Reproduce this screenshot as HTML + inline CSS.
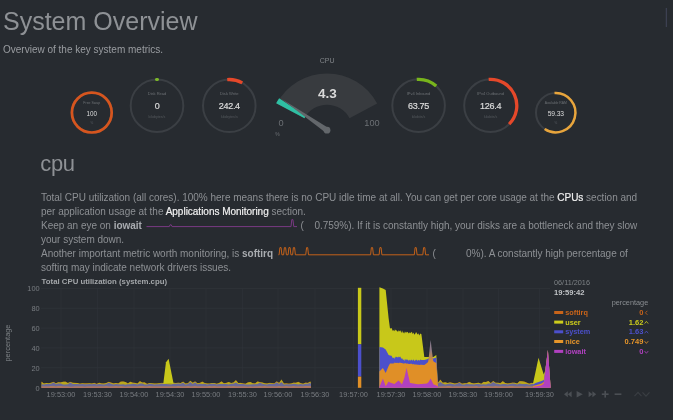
<!DOCTYPE html>
<html><head><meta charset="utf-8"><title>netdata</title>
<style>
html,body{margin:0;padding:0;background:#272b30;}
body{width:673px;height:420px;position:relative;overflow:hidden;font-family:"Liberation Sans",sans-serif;}
.t{position:absolute;white-space:nowrap;}
svg{position:absolute;left:0;top:0;}
h1{position:absolute;left:3px;top:7px;margin:0;font-weight:normal;font-size:25px;line-height:28px;color:#8e9195;white-space:nowrap;}
.sub{position:absolute;left:3px;top:42.5px;font-size:10px;line-height:14px;color:#9a9da1;white-space:nowrap;}
h2{position:absolute;left:40.2px;top:149.2px;margin:0;font-weight:normal;font-size:22px;letter-spacing:-0.3px;line-height:30px;color:#8e9195;}
.p{position:absolute;left:41px;font-size:10px;line-height:14px;color:#8d9094;white-space:nowrap;letter-spacing:-0.015px;margin-top:0.5px;}
.p b{color:#a9acb0;}
.p a{color:#f0f0f0;text-decoration:none;font-weight:normal;-webkit-text-stroke:0.2px #f0f0f0;}
#wrap{position:absolute;left:0;top:0;width:673px;height:420px;filter:blur(0.45px);}
</style></head><body><div id="wrap">
<h1>System Overview</h1>
<div class="sub">Overview of the key system metrics.</div>
<h2>cpu</h2>
<div class="p" style="top:190px">Total CPU utilization (all cores). 100% here means there is no CPU idle time at all. You can get per core usage at the <a>CPUs</a> section and</div>
<div class="p" style="top:204px">per application usage at the <a>Applications Monitoring</a> section.</div>
<div class="p" style="top:218px">Keep an eye on <b>iowait</b></div>
<div class="p" style="top:218px;left:300.5px">(</div>
<div class="p" style="top:218px;left:314.4px">0.759%). If it is constantly high, your disks are a bottleneck and they slow</div>
<div class="p" style="top:232px">your system down.</div>
<div class="p" style="top:246px">Another important metric worth monitoring, is <b>softirq</b></div>
<div class="p" style="top:246px;left:432.6px">(</div>
<div class="p" style="top:246px;left:466px">0%). A constantly high percentage of</div>
<div class="p" style="top:260px">softirq may indicate network drivers issues.</div>
<svg width="673" height="420" viewBox="0 0 673 420">
<circle cx="91.8" cy="112.6" r="19.9" fill="none" stroke="#3b3f44" stroke-width="2.7"/>
<circle cx="91.8" cy="112.6" r="19.9" fill="none" stroke="#d6551e" stroke-width="2.7"/>
<circle cx="157" cy="105.7" r="26.3" fill="none" stroke="#3b3f44" stroke-width="2.0"/>
<path d="M156.45 79.41 A26.3 26.3 0 0 1 157.55 79.41" fill="none" stroke="#7cb82a" stroke-width="3.0" stroke-linecap="round"/>
<circle cx="229.3" cy="105.8" r="26.3" fill="none" stroke="#3b3f44" stroke-width="2.0"/>
<path d="M227.24 79.58 A26.3 26.3 0 0 1 242.25 82.91" fill="none" stroke="#e5482a" stroke-width="3.3" stroke-linecap="butt"/>
<circle cx="418.6" cy="105.6" r="26.3" fill="none" stroke="#3b3f44" stroke-width="2.0"/>
<path d="M416.77 79.36 A26.3 26.3 0 0 1 436.20 86.06" fill="none" stroke="#78b41c" stroke-width="3.3" stroke-linecap="butt"/>
<circle cx="490.5" cy="105.6" r="26.3" fill="none" stroke="#3b3f44" stroke-width="2.0"/>
<path d="M488.67 79.36 A26.3 26.3 0 0 1 509.10 124.20" fill="none" stroke="#e5482a" stroke-width="3.3" stroke-linecap="butt"/>
<circle cx="555.7" cy="112.7" r="19.7" fill="none" stroke="#3b3f44" stroke-width="2.0"/>
<path d="M554.50 93.04 A19.7 19.7 0 1 1 544.68 129.03" fill="none" stroke="#e8a53c" stroke-width="2.5" stroke-linecap="butt"/>
<path d="M276.85 103.53 A56.8 56.8 0 0 1 377.15 103.53 L349.52 118.23 A25.5 25.5 0 0 0 304.48 118.23 Z" fill="#383b3f"/>
<path d="M276.14 103.16 A57.599999999999994 57.599999999999994 0 0 1 279.15 98.13 L305.82 116.00 A25.5 25.5 0 0 0 304.48 118.23 Z" fill="#2fbfa3"/>
<path d="M328.50 127.96 L281.63 99.10 L325.50 132.44 Z" fill="#63676b"/>
<circle cx="327" cy="130.2" r="3.4" fill="#63676b"/>
<rect x="665.8" y="8" width="1" height="19" fill="#43465a"/>
<path d="M146.5 226.6 L169.3 226.6 L170.1 224.8 L171.2 224.8 L172.1 226.6 L291.0 226.6 L291.8 219.6 L292.9 219.6 L293.8 226.6 L297.0 226.6" fill="none" stroke="#7a3a84" stroke-width="1" stroke-linejoin="round"/>
<path d="M278.5 254.8 L279.1 254.8 L279.9 247.6 L281.1 247.6 L281.9 254.8 L283.6 254.8 L284.4 247.6 L285.6 247.6 L286.4 254.8 L288.1 254.8 L288.9 247.6 L290.1 247.6 L290.9 254.8 L292.6 254.8 L293.4 247.6 L294.6 247.6 L295.4 254.8 L305.7 254.8 L306.6 247.6 L307.7 247.6 L308.5 254.8 L370.6 254.8 L371.4 247.6 L372.6 247.6 L373.4 254.8 L379.1 254.8 L379.9 247.6 L381.1 247.6 L381.9 254.8 L414.3 254.8 L415.1 247.6 L416.2 247.6 L417.1 254.8 L422.8 254.8 L423.6 247.6 L424.8 247.6 L425.6 254.8 L429.0 254.8" fill="none" stroke="#c4621a" stroke-width="1" stroke-linejoin="round"/>
<rect x="41" y="387.55" width="509" height="0.5" fill="#353a3f"/>
<rect x="41" y="367.63" width="509" height="0.5" fill="#353a3f"/>
<rect x="41" y="347.71" width="509" height="0.5" fill="#353a3f"/>
<rect x="41" y="327.79" width="509" height="0.5" fill="#353a3f"/>
<rect x="41" y="307.87" width="509" height="0.5" fill="#353a3f"/>
<rect x="41" y="287.95" width="509" height="0.5" fill="#353a3f"/>
<rect x="60.75" y="288.20" width="0.5" height="99.60" fill="#31353a"/>
<rect x="97.25" y="288.20" width="0.5" height="99.60" fill="#31353a"/>
<rect x="133.75" y="288.20" width="0.5" height="99.60" fill="#31353a"/>
<rect x="169.75" y="288.20" width="0.5" height="99.60" fill="#31353a"/>
<rect x="205.75" y="288.20" width="0.5" height="99.60" fill="#31353a"/>
<rect x="242.25" y="288.20" width="0.5" height="99.60" fill="#31353a"/>
<rect x="277.75" y="288.20" width="0.5" height="99.60" fill="#31353a"/>
<rect x="314.75" y="288.20" width="0.5" height="99.60" fill="#31353a"/>
<rect x="353.25" y="288.20" width="0.5" height="99.60" fill="#31353a"/>
<rect x="390.75" y="288.20" width="0.5" height="99.60" fill="#31353a"/>
<rect x="426.75" y="288.20" width="0.5" height="99.60" fill="#31353a"/>
<rect x="462.75" y="288.20" width="0.5" height="99.60" fill="#31353a"/>
<rect x="498.25" y="288.20" width="0.5" height="99.60" fill="#31353a"/>
<rect x="539.25" y="288.20" width="0.5" height="99.60" fill="#31353a"/>
<path d="M41.5 387.8 L41.5 381.6 L43.9 383.4 L46.3 383.0 L48.7 383.2 L51.1 382.7 L53.5 381.8 L55.9 383.2 L58.3 382.2 L60.7 382.2 L63.1 381.7 L65.5 381.6 L67.9 382.9 L70.3 381.8 L72.7 382.7 L75.1 382.8 L77.5 383.0 L79.9 383.6 L82.3 383.2 L84.7 383.3 L87.1 383.3 L89.5 383.2 L91.9 383.6 L94.3 382.7 L96.7 383.7 L99.1 382.8 L101.5 383.3 L103.9 383.4 L106.3 382.9 L108.7 381.8 L111.1 382.6 L113.5 383.3 L115.9 382.9 L118.3 383.3 L120.7 381.6 L123.1 381.5 L125.5 381.9 L127.9 383.3 L130.3 381.7 L132.7 382.6 L135.1 382.8 L137.5 383.4 L139.9 381.0 L142.3 382.5 L144.7 382.3 L147.1 383.8 L149.5 383.0 L151.9 383.2 L154.3 383.4 L156.7 383.5 L159.1 383.2 L161.5 382.8 L163.9 383.0 L166.3 383.2 L168.7 383.5 L171.1 383.6 L173.5 382.7 L175.9 382.9 L178.3 382.7 L180.7 382.9 L183.1 381.6 L185.5 383.5 L187.9 383.2 L190.3 380.7 L192.7 382.7 L195.1 381.3 L197.5 383.2 L199.9 382.8 L202.3 381.6 L204.7 382.9 L207.1 383.5 L209.5 383.4 L211.9 383.0 L214.3 382.9 L216.7 383.7 L219.1 382.9 L221.5 381.2 L223.9 383.2 L226.3 382.8 L228.7 382.0 L231.1 382.9 L233.5 382.4 L235.9 380.1 L238.3 383.0 L240.7 382.8 L243.1 383.3 L245.5 383.7 L247.9 382.3 L250.3 381.9 L252.7 383.3 L255.1 383.3 L257.5 381.4 L259.9 382.1 L262.3 382.4 L264.7 383.3 L267.1 383.4 L269.5 382.8 L271.9 383.0 L274.3 383.3 L276.7 381.3 L279.1 382.8 L281.5 379.6 L283.9 383.6 L286.3 383.3 L288.7 383.6 L291.1 383.6 L293.5 382.6 L295.9 382.7 L298.3 381.8 L300.7 383.0 L303.1 383.7 L305.5 382.6 L307.9 382.8 L310.3 381.5 L311.0 383.0 L311.0 387.8 Z" fill="#c8641a" opacity="0.72"/>
<path d="M41.5 387.8 L41.5 381.7 L43.9 383.5 L46.3 383.1 L48.7 383.3 L51.1 382.8 L53.5 381.9 L55.9 383.3 L58.3 382.3 L60.7 382.4 L63.1 381.8 L65.5 381.7 L67.9 383.1 L70.3 381.9 L72.7 382.8 L75.1 383.0 L77.5 383.1 L79.9 383.7 L82.3 383.3 L84.7 383.4 L87.1 383.4 L89.5 383.3 L91.9 383.6 L94.3 382.9 L96.7 383.9 L99.1 382.8 L101.5 383.4 L103.9 383.5 L106.3 383.0 L108.7 381.9 L111.1 382.7 L113.5 383.4 L115.9 383.0 L118.3 383.5 L120.7 381.7 L123.1 381.5 L125.5 382.0 L127.9 383.4 L130.3 381.8 L132.7 382.7 L135.1 382.9 L137.5 383.6 L139.9 381.2 L142.3 382.6 L144.7 382.4 L147.1 383.9 L149.5 383.1 L151.9 383.3 L154.3 383.5 L156.7 383.6 L159.1 383.3 L161.5 383.0 L163.9 383.1 L166.3 383.2 L168.7 383.6 L171.1 383.7 L173.5 382.8 L175.9 382.9 L178.3 382.8 L180.7 382.9 L183.1 381.7 L185.5 383.6 L187.9 383.3 L190.3 380.8 L192.7 382.8 L195.1 381.4 L197.5 383.3 L199.9 383.0 L202.3 381.7 L204.7 383.0 L207.1 383.6 L209.5 383.4 L211.9 383.1 L214.3 383.0 L216.7 383.8 L219.1 383.0 L221.5 381.4 L223.9 383.3 L226.3 382.9 L228.7 382.1 L231.1 383.0 L233.5 382.6 L235.9 380.2 L238.3 383.1 L240.7 382.9 L243.1 383.4 L245.5 383.8 L247.9 382.4 L250.3 382.0 L252.7 383.3 L255.1 383.4 L257.5 381.5 L259.9 382.2 L262.3 382.5 L264.7 383.3 L267.1 383.6 L269.5 382.9 L271.9 383.2 L274.3 383.4 L276.7 381.5 L279.1 382.9 L281.5 379.6 L283.9 383.6 L286.3 383.4 L288.7 383.7 L291.1 383.6 L293.5 382.7 L295.9 382.8 L298.3 381.9 L300.7 383.2 L303.1 383.8 L305.5 382.8 L307.9 383.0 L310.3 381.6 L311.0 383.1 L311.0 387.8 Z" fill="#c8c81a" opacity="0.72"/>
<path d="M41.5 387.8 L41.5 384.2 L43.9 384.4 L46.3 384.0 L48.7 384.0 L51.1 383.7 L53.5 382.6 L55.9 384.1 L58.3 383.5 L60.7 383.4 L63.1 384.6 L65.5 384.4 L67.9 384.2 L70.3 382.6 L72.7 383.9 L75.1 383.9 L77.5 383.9 L79.9 384.3 L82.3 384.1 L84.7 384.2 L87.1 384.3 L89.5 384.1 L91.9 384.3 L94.3 383.7 L96.7 384.6 L99.1 383.9 L101.5 384.2 L103.9 384.6 L106.3 384.1 L108.7 382.8 L111.1 383.8 L113.5 384.4 L115.9 384.1 L118.3 384.2 L120.7 384.4 L123.1 384.2 L125.5 384.7 L127.9 384.3 L130.3 384.2 L132.7 383.8 L135.1 383.9 L137.5 384.4 L139.9 383.6 L142.3 383.6 L144.7 384.6 L147.1 384.6 L149.5 383.7 L151.9 383.9 L154.3 384.4 L156.7 384.3 L159.1 384.3 L161.5 383.6 L163.9 383.9 L166.3 384.0 L168.7 384.2 L171.1 384.4 L173.5 383.7 L175.9 383.8 L178.3 383.5 L180.7 383.7 L183.1 382.8 L185.5 384.5 L187.9 384.0 L190.3 382.0 L192.7 383.9 L195.1 382.3 L197.5 384.3 L199.9 383.8 L202.3 384.0 L204.7 383.8 L207.1 384.4 L209.5 384.1 L211.9 383.8 L214.3 383.8 L216.7 384.4 L219.1 384.0 L221.5 384.0 L223.9 384.0 L226.3 384.1 L228.7 384.4 L231.1 383.7 L233.5 383.7 L235.9 382.4 L238.3 383.9 L240.7 384.1 L243.1 384.0 L245.5 384.5 L247.9 384.6 L250.3 384.4 L252.7 384.3 L255.1 384.3 L257.5 383.9 L259.9 382.8 L262.3 383.7 L264.7 384.3 L267.1 384.4 L269.5 383.8 L271.9 383.9 L274.3 384.1 L276.7 382.2 L279.1 383.9 L281.5 382.1 L283.9 384.6 L286.3 384.2 L288.7 384.3 L291.1 384.3 L293.5 383.8 L295.9 383.9 L298.3 384.4 L300.7 383.9 L303.1 384.5 L305.5 383.7 L307.9 383.8 L310.3 382.7 L311.0 384.0 L311.0 387.8 Z" fill="#4c50cc" opacity="0.72"/>
<path d="M41.5 387.8 L41.5 386.5 L43.9 386.5 L46.3 386.6 L48.7 386.4 L51.1 386.3 L53.5 386.2 L55.9 386.5 L58.3 386.3 L60.7 386.2 L63.1 386.5 L65.5 386.6 L67.9 386.5 L70.3 386.7 L72.7 386.7 L75.1 386.5 L77.5 386.5 L79.9 386.6 L82.3 386.5 L84.7 386.7 L87.1 386.5 L89.5 386.6 L91.9 386.6 L94.3 386.4 L96.7 386.6 L99.1 386.6 L101.5 386.4 L103.9 386.5 L106.3 386.2 L108.7 386.6 L111.1 386.4 L113.5 386.5 L115.9 386.3 L118.3 386.6 L120.7 386.3 L123.1 386.5 L125.5 386.7 L127.9 386.6 L130.3 386.6 L132.7 386.4 L135.1 386.5 L137.5 386.4 L139.9 386.3 L142.3 386.3 L144.7 386.6 L147.1 386.5 L149.5 386.2 L151.9 386.6 L154.3 386.5 L156.7 386.5 L159.1 386.4 L161.5 386.4 L163.9 386.5 L166.3 386.6 L168.7 386.4 L171.1 386.6 L173.5 386.4 L175.9 386.4 L178.3 386.3 L180.7 386.4 L183.1 386.4 L185.5 386.4 L187.9 386.3 L190.3 386.4 L192.7 386.5 L195.1 386.3 L197.5 386.4 L199.9 386.6 L202.3 386.4 L204.7 386.4 L207.1 386.5 L209.5 386.3 L211.9 386.4 L214.3 386.3 L216.7 386.6 L219.1 386.4 L221.5 386.4 L223.9 386.4 L226.3 386.4 L228.7 386.3 L231.1 386.4 L233.5 386.3 L235.9 386.4 L238.3 386.5 L240.7 386.4 L243.1 386.5 L245.5 386.5 L247.9 386.7 L250.3 386.4 L252.7 386.7 L255.1 386.5 L257.5 386.6 L259.9 386.3 L262.3 386.5 L264.7 386.2 L267.1 386.4 L269.5 386.4 L271.9 386.6 L274.3 386.4 L276.7 386.4 L279.1 386.2 L281.5 386.6 L283.9 386.5 L286.3 386.3 L288.7 386.4 L291.1 386.4 L293.5 386.3 L295.9 386.6 L298.3 386.4 L300.7 386.4 L303.1 386.5 L305.5 386.2 L307.9 386.2 L310.3 386.3 L311.0 386.6 L311.0 387.8 Z" fill="#e08f27" opacity="0.72"/>
<path d="M41.5 387.8 L41.5 387.6 L43.9 387.5 L46.3 387.5 L48.7 387.6 L51.1 387.5 L53.5 387.5 L55.9 387.5 L58.3 387.5 L60.7 387.5 L63.1 387.5 L65.5 387.6 L67.9 387.6 L70.3 387.6 L72.7 387.6 L75.1 387.6 L77.5 387.5 L79.9 387.5 L82.3 387.6 L84.7 387.6 L87.1 387.6 L89.5 387.5 L91.9 387.6 L94.3 387.5 L96.7 387.6 L99.1 387.6 L101.5 387.6 L103.9 387.5 L106.3 387.5 L108.7 387.6 L111.1 387.6 L113.5 387.6 L115.9 387.5 L118.3 387.6 L120.7 387.5 L123.1 387.6 L125.5 387.6 L127.9 387.6 L130.3 387.6 L132.7 387.6 L135.1 387.6 L137.5 387.5 L139.9 387.6 L142.3 387.5 L144.7 387.5 L147.1 387.5 L149.5 387.5 L151.9 387.5 L154.3 387.5 L156.7 387.6 L159.1 387.6 L161.5 387.6 L163.9 387.5 L166.3 387.6 L168.7 387.5 L171.1 387.6 L173.5 387.5 L175.9 387.5 L178.3 387.5 L180.7 387.6 L183.1 387.6 L185.5 387.5 L187.9 387.5 L190.3 387.6 L192.7 387.5 L195.1 387.5 L197.5 387.5 L199.9 387.5 L202.3 387.5 L204.7 387.5 L207.1 387.6 L209.5 387.5 L211.9 387.6 L214.3 387.5 L216.7 387.5 L219.1 387.5 L221.5 387.6 L223.9 387.5 L226.3 387.6 L228.7 387.5 L231.1 387.5 L233.5 387.5 L235.9 387.6 L238.3 387.6 L240.7 387.6 L243.1 387.6 L245.5 387.6 L247.9 387.6 L250.3 387.6 L252.7 387.6 L255.1 387.6 L257.5 387.6 L259.9 387.5 L262.3 387.6 L264.7 387.5 L267.1 387.6 L269.5 387.6 L271.9 387.6 L274.3 387.5 L276.7 387.6 L279.1 387.5 L281.5 387.6 L283.9 387.5 L286.3 387.6 L288.7 387.5 L291.1 387.6 L293.5 387.5 L295.9 387.6 L298.3 387.6 L300.7 387.5 L303.1 387.6 L305.5 387.5 L307.9 387.5 L310.3 387.6 L311.0 387.5 L311.0 387.8 Z" fill="#b141c0" opacity="0.72"/>
<path d="M163.3 383.8 L166.0 362.3 L168.6 358.7 L173.6 383.8 Z" fill="#c8c81a"/>
<rect x="357.9" y="287.8" width="3.400000000000034" height="56.5" fill="#c8c81a"/>
<rect x="357.9" y="344.3" width="3.400000000000034" height="32.3" fill="#4c50cc"/>
<rect x="357.9" y="376.6" width="3.400000000000034" height="11.2" fill="#e08f27"/>
<path d="M379.4 387.8 L379.4 287.3 L382.9 288.5 L385.7 290.0 L388.6 318.0 L390.0 328.6 L391.5 328.1 L392.9 331.1 L394.3 329.5 L394.4 331.3 L395.9 329.5 L397.3 331.8 L398.6 330.2 L398.8 331.7 L400.2 330.2 L401.6 332.9 L402.0 330.2 L403.1 333.3 L404.3 331.4 L404.6 333.6 L406.0 331.4 L406.6 332.8 L407.4 331.8 L408.9 333.4 L410.0 331.9 L410.4 333.2 L411.8 331.7 L412.9 334.3 L413.2 332.5 L414.7 334.8 L416.1 332.1 L417.6 334.6 L418.6 333.3 L419.1 335.4 L420.5 333.6 L421.4 334.3 L424.3 357.1 L427.0 357.0 L428.6 357.0 L430.6 357.0 L433.4 357.0 L436.3 354.9 L438.0 385.7 L438.0 387.8 Z" fill="#c8c81a" opacity="1"/>
<path d="M379.4 387.8 L379.4 347.1 L382.9 347.6 L385.7 349.5 L388.6 354.9 L390.0 355.6 L391.5 355.8 L392.9 358.3 L394.3 357.3 L394.4 358.9 L395.9 356.5 L397.3 357.4 L398.6 356.4 L398.8 357.4 L400.2 356.5 L401.6 359.1 L402.0 357.9 L403.1 360.1 L404.3 359.3 L404.6 360.9 L406.0 358.7 L406.6 359.9 L407.4 359.5 L408.9 360.7 L410.0 359.4 L410.4 360.7 L411.8 359.5 L412.9 360.9 L413.2 359.3 L414.7 360.9 L416.1 359.5 L417.6 360.7 L418.6 359.8 L419.1 360.7 L420.5 359.5 L421.4 360.0 L424.3 360.0 L427.0 359.2 L428.6 358.6 L430.6 357.0 L433.4 358.5 L436.3 357.5 L438.0 385.9 L438.0 387.8 Z" fill="#4c50cc" opacity="1"/>
<path d="M379.4 387.8 L379.4 371.4 L382.9 368.0 L385.7 372.9 L388.6 366.0 L390.0 363.4 L391.5 363.4 L392.9 363.4 L394.3 363.2 L394.4 362.6 L395.9 363.0 L397.3 362.8 L398.6 363.2 L398.8 362.8 L400.2 362.7 L401.6 363.0 L402.0 363.1 L403.1 363.4 L404.3 363.5 L404.6 363.3 L406.0 363.3 L406.6 363.7 L407.4 363.6 L408.9 363.9 L410.0 364.1 L410.4 363.7 L411.8 363.8 L412.9 364.4 L413.2 364.1 L414.7 364.6 L416.1 364.4 L417.6 364.7 L418.6 364.8 L419.1 364.9 L420.5 364.8 L421.4 364.8 L424.3 364.9 L427.0 363.0 L428.6 361.4 L430.6 354.0 L433.4 361.4 L436.3 363.0 L438.0 386.0 L438.0 387.8 Z" fill="#e08f27" opacity="1"/>
<path d="M379.4 387.8 L379.4 387.0 L382.9 378.6 L385.7 386.3 L388.6 381.4 L390.0 382.5 L391.5 383.0 L392.9 383.5 L394.3 384.0 L394.4 383.9 L395.9 382.8 L397.3 381.6 L398.6 380.6 L398.8 380.8 L400.2 382.3 L401.6 383.9 L402.0 384.3 L403.1 381.3 L404.3 378.0 L404.6 376.9 L406.0 370.6 L406.6 368.0 L407.4 371.7 L408.9 378.1 L410.0 382.9 L410.4 383.0 L411.8 383.3 L412.9 383.5 L413.2 383.5 L414.7 383.8 L416.1 384.0 L417.6 384.2 L418.6 384.3 L419.1 384.3 L420.5 384.1 L421.4 384.0 L424.3 383.8 L427.0 383.4 L428.6 382.0 L430.6 378.6 L433.4 384.3 L436.3 385.5 L438.0 386.5 L438.0 387.8 Z" fill="#b141c0" opacity="1"/>
<defs><linearGradient id="gsp" x1="0" y1="0" x2="0" y2="1"><stop offset="0" stop-color="#8a7e94"/><stop offset="0.45" stop-color="#8f7a86"/><stop offset="1" stop-color="#e08f27"/></linearGradient></defs>
<path d="M428.2 362.5 L430.6 340 L433.4 362.5 Z" fill="url(#gsp)"/>
<path d="M438.0 387.8 L438.0 382.7 L440.4 379.6 L442.8 382.7 L445.2 382.2 L447.6 382.9 L450.0 382.3 L452.4 382.8 L454.8 383.5 L457.2 383.0 L459.6 382.1 L462.0 383.6 L464.4 383.2 L466.8 383.1 L469.2 381.8 L471.6 382.9 L474.0 383.3 L476.4 382.9 L478.8 382.7 L481.2 383.7 L483.6 381.8 L486.0 382.0 L488.4 381.0 L490.8 383.1 L493.2 380.9 L495.6 382.7 L498.0 382.7 L500.4 383.1 L502.8 381.1 L505.2 383.0 L507.6 383.5 L510.0 383.1 L512.4 382.6 L514.8 382.7 L517.2 383.4 L519.6 381.1 L522.0 381.3 L524.4 381.5 L526.8 382.6 L529.2 383.6 L531.6 382.8 L533.0 382.9 L533.0 387.8 Z" fill="#c8641a" opacity="0.72"/>
<path d="M438.0 387.8 L438.0 382.7 L440.4 379.8 L442.8 382.7 L445.2 382.3 L447.6 383.0 L450.0 382.4 L452.4 382.9 L454.8 383.6 L457.2 383.2 L459.6 382.2 L462.0 383.7 L464.4 383.3 L466.8 383.2 L469.2 381.9 L471.6 383.0 L474.0 383.4 L476.4 383.0 L478.8 382.8 L481.2 383.8 L483.6 381.9 L486.0 382.0 L488.4 381.1 L490.8 383.2 L493.2 381.1 L495.6 382.8 L498.0 382.8 L500.4 383.2 L502.8 381.2 L505.2 383.1 L507.6 383.6 L510.0 383.2 L512.4 382.7 L514.8 382.8 L517.2 383.5 L519.6 381.3 L522.0 381.3 L524.4 381.7 L526.8 382.7 L529.2 383.7 L531.6 382.9 L533.0 383.0 L533.0 387.8 Z" fill="#c8c81a" opacity="0.72"/>
<path d="M438.0 387.8 L438.0 383.6 L440.4 382.1 L442.8 383.7 L445.2 384.6 L447.6 383.9 L450.0 383.4 L452.4 384.0 L454.8 384.5 L457.2 383.8 L459.6 382.8 L462.0 384.4 L464.4 384.4 L466.8 383.8 L469.2 384.2 L471.6 384.2 L474.0 384.5 L476.4 384.1 L478.8 383.9 L481.2 384.5 L483.6 384.2 L486.0 384.6 L488.4 383.6 L490.8 383.8 L493.2 382.0 L495.6 383.6 L498.0 383.7 L500.4 384.4 L502.8 383.9 L505.2 384.1 L507.6 384.6 L510.0 384.0 L512.4 383.5 L514.8 383.8 L517.2 384.4 L519.6 383.5 L522.0 384.0 L524.4 383.9 L526.8 383.9 L529.2 384.7 L531.6 384.0 L533.0 383.7 L533.0 387.8 Z" fill="#4c50cc" opacity="0.72"/>
<path d="M438.0 387.8 L438.0 386.4 L440.4 386.4 L442.8 386.6 L445.2 386.5 L447.6 386.3 L450.0 386.3 L452.4 386.7 L454.8 386.6 L457.2 386.5 L459.6 386.6 L462.0 386.5 L464.4 386.6 L466.8 386.6 L469.2 386.4 L471.6 386.5 L474.0 386.5 L476.4 386.2 L478.8 386.7 L481.2 386.5 L483.6 386.3 L486.0 386.6 L488.4 386.2 L490.8 386.4 L493.2 386.5 L495.6 386.3 L498.0 386.4 L500.4 386.4 L502.8 386.4 L505.2 386.5 L507.6 386.5 L510.0 386.3 L512.4 386.3 L514.8 386.5 L517.2 386.5 L519.6 386.4 L522.0 386.5 L524.4 386.7 L526.8 386.4 L529.2 386.6 L531.6 386.4 L533.0 386.5 L533.0 387.8 Z" fill="#e08f27" opacity="0.72"/>
<path d="M438.0 387.8 L438.0 387.6 L440.4 387.5 L442.8 387.5 L445.2 387.6 L447.6 387.6 L450.0 387.6 L452.4 387.6 L454.8 387.5 L457.2 387.6 L459.6 387.5 L462.0 387.5 L464.4 387.6 L466.8 387.6 L469.2 387.6 L471.6 387.6 L474.0 387.5 L476.4 387.5 L478.8 387.6 L481.2 387.5 L483.6 387.5 L486.0 387.6 L488.4 387.5 L490.8 387.6 L493.2 387.5 L495.6 387.5 L498.0 387.5 L500.4 387.5 L502.8 387.6 L505.2 387.6 L507.6 387.5 L510.0 387.5 L512.4 387.6 L514.8 387.6 L517.2 387.6 L519.6 387.6 L522.0 387.6 L524.4 387.6 L526.8 387.6 L529.2 387.6 L531.6 387.6 L533.0 387.5 L533.0 387.8 Z" fill="#b141c0" opacity="0.72"/>
<path d="M533.0 387.8 L533.0 383.5 L535.5 372.0 L538.5 357.7 L541.5 367.5 L543.8 374.5 L545.2 370.5 L547.9 350.1 L549.4 371.0 L550.6 387.0 L550.6 387.8 Z" fill="#c8c81a" opacity="1"/>
<path d="M533.0 387.8 L533.0 384.5 L535.5 383.0 L538.5 382.0 L541.5 381.0 L543.8 380.0 L545.2 371.0 L547.9 350.1 L549.4 371.0 L550.6 387.0 L550.6 387.8 Z" fill="#4c50cc" opacity="1"/>
<path d="M533.0 387.8 L533.0 385.8 L535.5 385.2 L538.5 384.6 L541.5 383.6 L543.8 382.0 L545.2 371.5 L547.9 350.1 L549.4 371.0 L550.6 387.0 L550.6 387.8 Z" fill="#e08f27" opacity="1"/>
<path d="M533.0 387.8 L533.0 386.9 L535.5 386.6 L538.5 386.0 L541.5 385.2 L543.8 383.5 L545.2 372.0 L547.9 350.1 L549.4 371.0 L550.6 387.0 L550.6 387.8 Z" fill="#b141c0" opacity="1"/>
<path d="M567.8 391.2 L564 394.2 L567.8 397.2 Z" fill="#4b4f54"/>
<path d="M571.5999999999999 391.2 L567.8 394.2 L571.5999999999999 397.2 Z" fill="#4b4f54"/>
<path d="M576.6 390.9 L582.8000000000001 394.2 L576.6 397.5 Z" fill="#4b4f54"/>
<path d="M588.6 391.2 L592.4 394.2 L588.6 397.2 Z" fill="#4b4f54"/>
<path d="M592.4 391.2 L596.1999999999999 394.2 L592.4 397.2 Z" fill="#4b4f54"/>
<rect x="601.8" y="393.4" width="6.8" height="1.6" fill="#4b4f54"/><rect x="604.4" y="390.8" width="1.6" height="6.8" fill="#4b4f54"/>
<rect x="614.6" y="393.4" width="6.8" height="1.6" fill="#4b4f54"/>
<path d="M634.5 396.2 L638 392.4 L641.5 396.2" fill="none" stroke="#3a3e43" stroke-width="1.2"/>
<path d="M642.5 392.4 L646 396.2 L649.5 392.4" fill="none" stroke="#3a3e43" stroke-width="1.2"/>
<rect x="554.2" y="311.0" width="9" height="3" fill="#c8641a"/>
<path d="M647.4 310.79999999999995 L645.4 312.79999999999995 L647.4 314.79999999999995" fill="none" stroke="#c8641a" stroke-width="0.8"/>
<rect x="554.2" y="320.6" width="9" height="3" fill="#cdcd1c"/>
<path d="M644.6 323.6 L646.4 321.4 L648.2 323.6" fill="none" stroke="#cdcd1c" stroke-width="0.8"/>
<rect x="554.2" y="330.3" width="9" height="3" fill="#4c50cc"/>
<path d="M644.6 333.3 L646.4 331.09999999999997 L648.2 333.3" fill="none" stroke="#4c50cc" stroke-width="0.8"/>
<rect x="554.2" y="340.0" width="9" height="3" fill="#e6952a"/>
<path d="M644.6 341.2 L646.4 343.4 L648.2 341.2" fill="none" stroke="#e6952a" stroke-width="0.8"/>
<rect x="554.2" y="349.90000000000003" width="9" height="3" fill="#b141c0"/>
<path d="M644.6 351.1 L646.4 353.3 L648.2 351.1" fill="none" stroke="#b141c0" stroke-width="0.8"/>
</svg>
<div class="t" style="top:99.90px;font-size:3.5px;line-height:6px;color:#6d7175;left:-58.2px;width:300px;text-align:center;">Free Swap</div>
<div class="t" style="top:108.90px;font-size:6.3px;line-height:10px;color:#dcdcdc;left:-58.2px;width:300px;text-align:center;">100</div>
<div class="t" style="top:120.40px;font-size:3.4px;line-height:6px;color:#55595e;left:-58.2px;width:300px;text-align:center;">%</div>
<div class="t" style="top:89.50px;font-size:4.0px;line-height:7px;color:#6d7175;left:7px;width:300px;text-align:center;">Disk Read</div>
<div class="t" style="top:99.70px;font-size:9px;line-height:13px;color:#dcdcdc;left:7px;width:300px;text-align:center;-webkit-text-stroke:0.2px #dcdcdc;letter-spacing:-0.3px;">0</div>
<div class="t" style="top:113.80px;font-size:3.6px;line-height:6px;color:#55595e;left:7px;width:300px;text-align:center;">kilobytes/s</div>
<div class="t" style="top:89.50px;font-size:4.1px;line-height:7px;color:#6d7175;left:79.30000000000001px;width:300px;text-align:center;">Disk Write</div>
<div class="t" style="top:99.70px;font-size:9px;line-height:13px;color:#dcdcdc;left:79.30000000000001px;width:300px;text-align:center;-webkit-text-stroke:0.2px #dcdcdc;letter-spacing:-0.3px;">242.4</div>
<div class="t" style="top:113.80px;font-size:3.6px;line-height:6px;color:#55595e;left:79.30000000000001px;width:300px;text-align:center;">kilobytes/s</div>
<div class="t" style="top:89.70px;font-size:4px;line-height:7px;color:#6d7175;left:268.5px;width:300px;text-align:center;">IPv4 Inbound</div>
<div class="t" style="top:99.70px;font-size:9px;line-height:13px;color:#dcdcdc;left:268.5px;width:300px;text-align:center;-webkit-text-stroke:0.2px #dcdcdc;letter-spacing:-0.3px;">63.75</div>
<div class="t" style="top:113.80px;font-size:3.5px;line-height:6px;color:#55595e;left:268.5px;width:300px;text-align:center;">kilobits/s</div>
<div class="t" style="top:89.70px;font-size:4px;line-height:7px;color:#6d7175;left:340.6px;width:300px;text-align:center;">IPv4 Outbound</div>
<div class="t" style="top:99.70px;font-size:9px;line-height:13px;color:#dcdcdc;left:340.6px;width:300px;text-align:center;-webkit-text-stroke:0.2px #dcdcdc;letter-spacing:-0.3px;">126.4</div>
<div class="t" style="top:113.80px;font-size:3.5px;line-height:6px;color:#55595e;left:340.6px;width:300px;text-align:center;">kilobits/s</div>
<div class="t" style="top:100.20px;font-size:3.4px;line-height:6px;color:#6d7175;left:405.79999999999995px;width:300px;text-align:center;">Available RAM</div>
<div class="t" style="top:108.80px;font-size:6.7px;line-height:10px;color:#dcdcdc;left:405.79999999999995px;width:300px;text-align:center;letter-spacing:-0.1px;">59.33</div>
<div class="t" style="top:120.00px;font-size:3.4px;line-height:6px;color:#55595e;left:405.79999999999995px;width:300px;text-align:center;">%</div>
<div class="t" style="top:55.80px;font-size:7px;line-height:10px;color:#808488;left:177.2px;width:300px;text-align:center;">CPU</div>
<div class="t" style="top:84.80px;font-size:13.5px;line-height:18px;color:#dadada;font-weight:bold;left:177.39999999999998px;width:300px;text-align:center;">4.3</div>
<div class="t" style="top:116.90px;font-size:9.2px;line-height:13px;color:#6c7074;left:131px;width:300px;text-align:center;">0</div>
<div class="t" style="top:116.90px;font-size:9.2px;line-height:13px;color:#6c7074;left:222px;width:300px;text-align:center;">100</div>
<div class="t" style="top:129.80px;font-size:5px;line-height:8px;color:#6c7074;left:127.39999999999998px;width:300px;text-align:center;">%</div>
<div class="t" style="top:275.70px;font-size:7.8px;line-height:11px;color:#a3a6a9;font-weight:bold;left:41.6px;">Total CPU utilization (system.cpu)</div>
<div class="t" style="top:382.50px;font-size:7.4px;line-height:11px;color:#787c80;left:-260.4px;width:300px;text-align:right;">0</div>
<div class="t" style="top:362.58px;font-size:7.4px;line-height:11px;color:#787c80;left:-260.4px;width:300px;text-align:right;">20</div>
<div class="t" style="top:342.66px;font-size:7.4px;line-height:11px;color:#787c80;left:-260.4px;width:300px;text-align:right;">40</div>
<div class="t" style="top:322.74px;font-size:7.4px;line-height:11px;color:#787c80;left:-260.4px;width:300px;text-align:right;">60</div>
<div class="t" style="top:302.82px;font-size:7.4px;line-height:11px;color:#787c80;left:-260.4px;width:300px;text-align:right;">80</div>
<div class="t" style="top:282.90px;font-size:7.4px;line-height:11px;color:#787c80;left:-260.4px;width:300px;text-align:right;">100</div>
<div class="t" style="top:388.70px;font-size:7.4px;line-height:11px;color:#787c80;left:-89px;width:300px;text-align:center;">19:53:00</div>
<div class="t" style="top:388.70px;font-size:7.4px;line-height:11px;color:#787c80;left:-52.5px;width:300px;text-align:center;">19:53:30</div>
<div class="t" style="top:388.70px;font-size:7.4px;line-height:11px;color:#787c80;left:-16px;width:300px;text-align:center;">19:54:00</div>
<div class="t" style="top:388.70px;font-size:7.4px;line-height:11px;color:#787c80;left:20px;width:300px;text-align:center;">19:54:30</div>
<div class="t" style="top:388.70px;font-size:7.4px;line-height:11px;color:#787c80;left:56px;width:300px;text-align:center;">19:55:00</div>
<div class="t" style="top:388.70px;font-size:7.4px;line-height:11px;color:#787c80;left:92.5px;width:300px;text-align:center;">19:55:30</div>
<div class="t" style="top:388.70px;font-size:7.4px;line-height:11px;color:#787c80;left:128px;width:300px;text-align:center;">19:56:00</div>
<div class="t" style="top:388.70px;font-size:7.4px;line-height:11px;color:#787c80;left:165px;width:300px;text-align:center;">19:56:30</div>
<div class="t" style="top:388.70px;font-size:7.4px;line-height:11px;color:#787c80;left:203.5px;width:300px;text-align:center;">19:57:00</div>
<div class="t" style="top:388.70px;font-size:7.4px;line-height:11px;color:#787c80;left:241px;width:300px;text-align:center;">19:57:30</div>
<div class="t" style="top:388.70px;font-size:7.4px;line-height:11px;color:#787c80;left:277px;width:300px;text-align:center;">19:58:00</div>
<div class="t" style="top:388.70px;font-size:7.4px;line-height:11px;color:#787c80;left:313px;width:300px;text-align:center;">19:58:30</div>
<div class="t" style="top:388.70px;font-size:7.4px;line-height:11px;color:#787c80;left:348.5px;width:300px;text-align:center;">19:59:00</div>
<div class="t" style="top:388.70px;font-size:7.4px;line-height:11px;color:#787c80;left:389.5px;width:300px;text-align:center;">19:59:30</div>
<div class="t" style="left:-142.3px;top:338.3px;width:300px;text-align:center;font-size:7.4px;line-height:10px;color:#7c8084;transform:rotate(-90deg);">percentage</div>
<div class="t" style="top:276.70px;font-size:7.3px;line-height:11px;color:#7c8084;left:554px;">06/11/2016</div>
<div class="t" style="top:286.80px;font-size:7.6px;line-height:11px;color:#c0c3c6;font-weight:bold;left:554px;">19:59:42</div>
<div class="t" style="top:296.90px;font-size:7.3px;line-height:11px;color:#8a8e92;left:348.20000000000005px;width:300px;text-align:right;">percentage</div>
<div class="t" style="top:306.90px;font-size:7.3px;line-height:11px;color:#c8641a;font-weight:bold;left:565.2px;">softirq</div>
<div class="t" style="top:306.90px;font-size:7.5px;line-height:11px;color:#c8641a;font-weight:bold;left:343.4px;width:300px;text-align:right;">0</div>
<div class="t" style="top:316.50px;font-size:7.3px;line-height:11px;color:#cdcd1c;font-weight:bold;left:565.2px;">user</div>
<div class="t" style="top:316.50px;font-size:7.5px;line-height:11px;color:#cdcd1c;font-weight:bold;left:343.4px;width:300px;text-align:right;">1.62</div>
<div class="t" style="top:326.20px;font-size:7.3px;line-height:11px;color:#4c50cc;font-weight:bold;left:565.2px;">system</div>
<div class="t" style="top:326.20px;font-size:7.5px;line-height:11px;color:#4c50cc;font-weight:bold;left:343.4px;width:300px;text-align:right;">1.63</div>
<div class="t" style="top:335.90px;font-size:7.3px;line-height:11px;color:#e6952a;font-weight:bold;left:565.2px;">nice</div>
<div class="t" style="top:335.90px;font-size:7.5px;line-height:11px;color:#e6952a;font-weight:bold;left:343.4px;width:300px;text-align:right;">0.749</div>
<div class="t" style="top:345.80px;font-size:7.3px;line-height:11px;color:#b141c0;font-weight:bold;left:565.2px;">iowait</div>
<div class="t" style="top:345.80px;font-size:7.5px;line-height:11px;color:#b141c0;font-weight:bold;left:343.4px;width:300px;text-align:right;">0</div>
</div></body></html>
